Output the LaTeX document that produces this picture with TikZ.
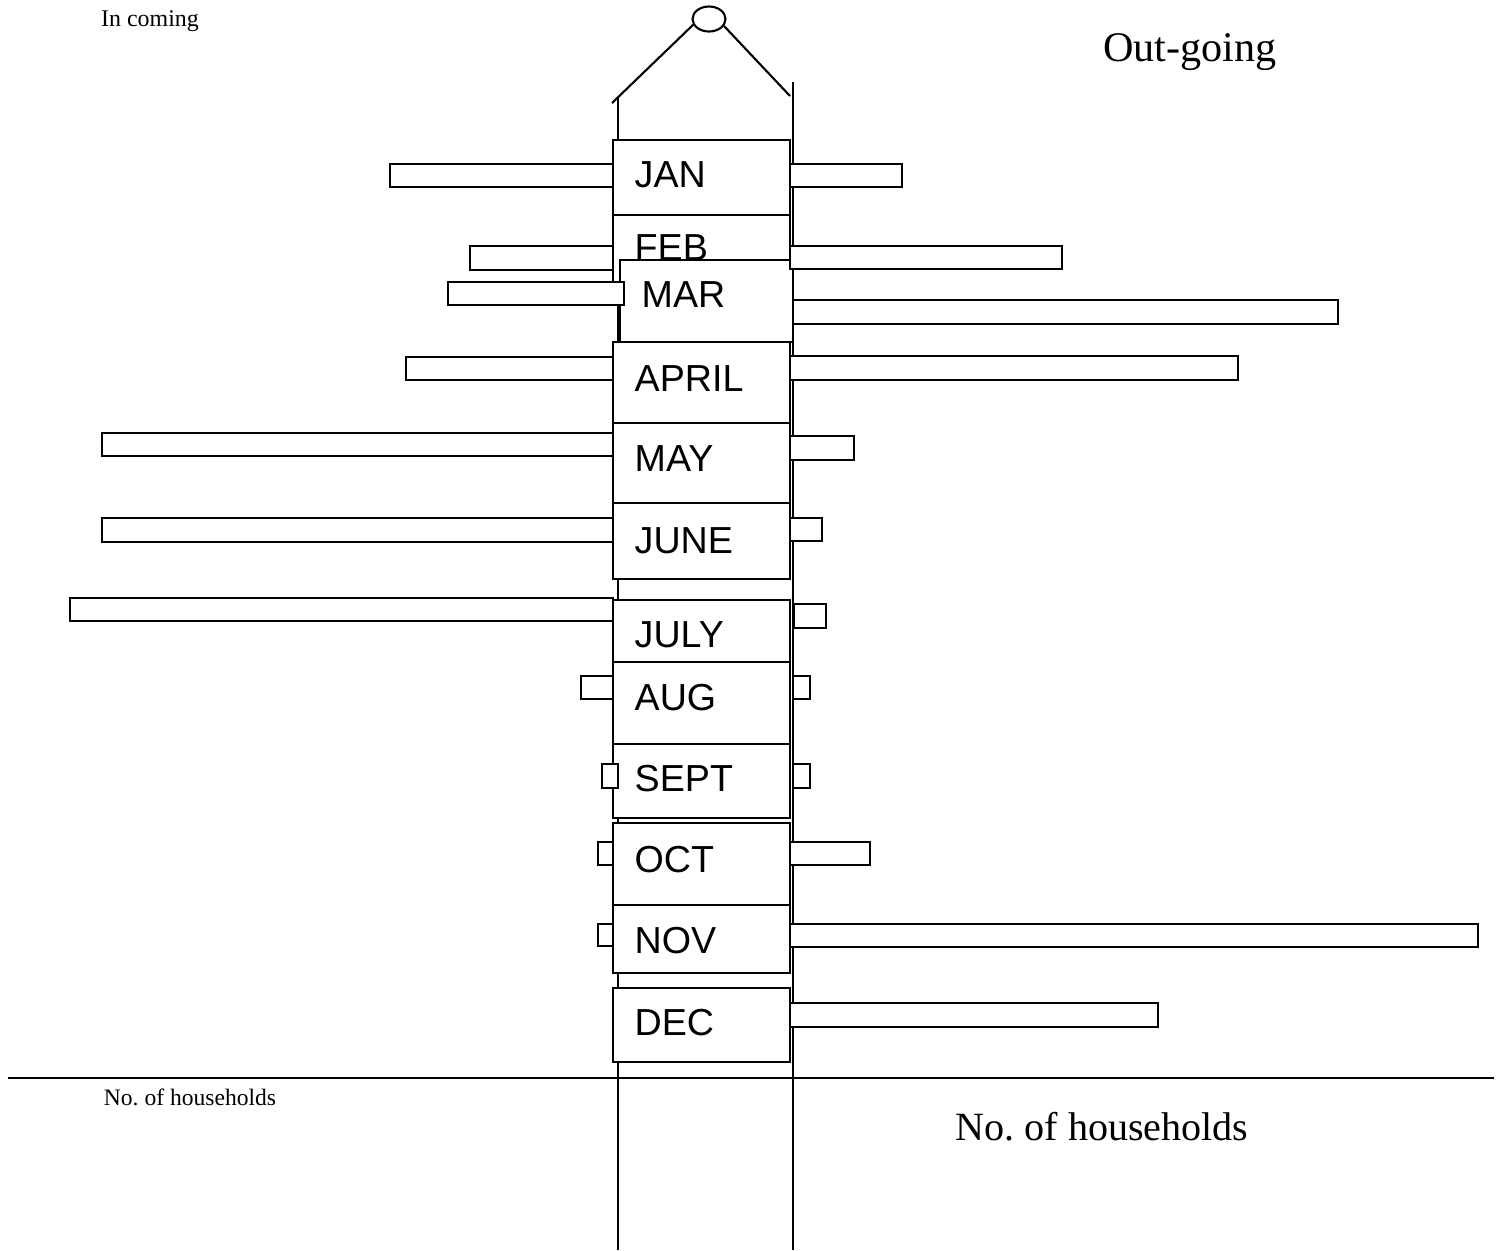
\documentclass[tikz,border=0pt]{standalone}
\usepackage{fontspec}
\setmainfont{Liberation Serif}
\newfontfamily\monthfont{Liberation Sans}
\usetikzlibrary{shapes.geometric}
\frenchspacing
\tikzset{
  poleline/.style={line width=0.6pt, black},
  monthbox/.style={draw, fill=white, line width=0.6pt},
  monthlabel/.style={anchor=west, inner sep=0pt, font=\monthfont\fontsize{10.7}{12}\selectfont},
  barbox/.style={draw, fill=white, line width=0.6pt},
  smalltag/.style={inner sep=0pt, font=\fontsize{6.8}{8}\selectfont},
  bigtag/.style={inner sep=0pt, font=\fontsize{12}{14}\selectfont}
}
\begin{document}
\begin{tikzpicture}[x=0.01cm, y=-0.01cm]
  \useasboundingbox (0,0) rectangle (1501,1250);

  % hanger and pole
  \node[draw, ellipse, line width=0.6pt, minimum width=0.33cm, minimum height=0.25cm, inner sep=0pt] (ring) at (709,19) {};
  \coordinate (hookL) at (612,103);
  \coordinate (hookR) at (790,96);
  \draw[poleline] (ring.200) -- (hookL);
  \draw[poleline] (ring.335) -- (hookR);
  \draw[poleline] (618,98) -- (618,1250);
  \draw[poleline] (793,82) -- (793,1250);

  % month boxes
  \foreach \m/\bx/\by/\bX/\bY/\ly in {
      JAN/613/140/790/215/175, FEB/613/215/790/300/248,
      MAR/620/260/793/342/295, APRIL/613/342/790/423/379,
      MAY/613/423/790/503/459, JUNE/613/503/790/579/541,
      JULY/613/600/790/662/635, AUG/613/662/790/744/698,
      SEPT/613/744/790/818/779, OCT/613/823/790/905/860,
      NOV/613/905/790/973/941, DEC/613/988/790/1062/1023}{
    \draw[monthbox] (\bx,\by) rectangle (\bX,\bY);
    \node[monthlabel] (lbl-\m) at (\bx+21,\ly) {\m};
  }

  % incoming (left) bars
  \foreach \x/\X/\y/\Y in {390/613/164/187, 470/613/246/270, 448/624/282/305,
      406/613/357/380, 102/613/433/456, 102/613/518/542, 70/613/598/621,
      581/613/676/699, 602/618/764/788, 598/613/842/865, 598/613/924/946}
    \draw[barbox] (\x,\y) rectangle (\X,\Y);

  % outgoing (right) bars
  \foreach \x/\X/\y/\Y in {790/902/164/187, 790/1062/246/269, 793/1338/300/324,
      790/1238/356/380, 790/854/436/460, 790/822/518/541, 794/826/604/628,
      793/810/676/699, 793/810/764/788, 790/870/842/865, 790/1478/924/947,
      790/1158/1003/1027}
    \draw[barbox] (\x,\y) rectangle (\X,\Y);

  % axis and captions
  \coordinate (axisL) at (8,1078);
  \coordinate (axisR) at (1494,1078);
  \draw[poleline] (axisL) -- (axisR);
  \node[smalltag] (incoming) at (150,21) {In coming};
  \node[bigtag] (outgoing) at (1190,52) {Out-going};
  \node[smalltag, font=\fontsize{6.7}{8}\selectfont] (hhL) at (190,1097) {No. of households};
  \node[bigtag, font=\fontsize{11.4}{13}\selectfont] (hhR) at (1102,1127) {No. of households};
\end{tikzpicture}
\end{document}
